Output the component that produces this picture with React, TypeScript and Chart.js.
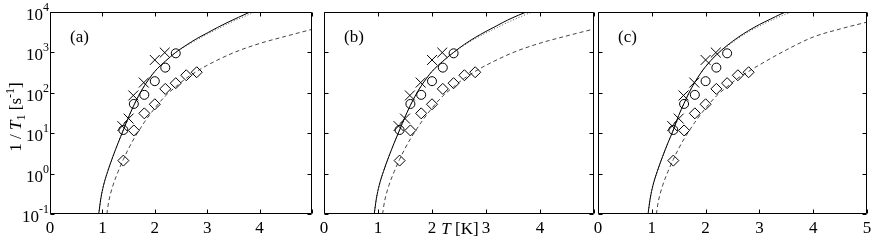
import React, { useEffect, useRef } from 'react';
import { Chart, registerables } from 'chart.js';

Chart.register(...registerables);

const FONT = '"Liberation Serif", "Times New Roman", serif';

// axis ticks
const xTicks = [0, 1, 2, 3, 4, 5];
const yTickExponents = [-1, 0, 1, 2, 3, 4];
const yTickValues = [0.1, 1, 10, 100, 1000, 10000];
const panelLabels = ['(a)', '(b)', '(c)'];

// measured points (same in all panels)
const circleT = [1.4, 1.6, 1.8, 2.0, 2.2, 2.4];
const circleRate = [12, 53, 89, 194, 420, 950];
const crossT = [1.38, 1.5, 1.59, 1.79, 2.0, 2.19];
const crossRate = [15, 23, 86, 179, 650, 990];
const diamondT = [1.4, 1.6, 1.8, 2.0, 2.2, 2.4, 2.6, 2.8];
const diamondRate = [2.1, 11.7, 31, 52, 125, 173, 272, 323];

// model curves
const solidT = [0.93, 0.97, 1.02, 1.1, 1.2, 1.3, 1.4, 1.5, 1.6, 1.7, 1.8, 1.9, 2.0, 2.2, 2.4, 2.6, 2.8, 3.0, 3.2, 3.4, 3.6, 3.8, 4.0];
const solidA = [0.1, 0.24, 0.5, 1.12, 2.63, 5.75, 12, 25.1, 49, 89, 148, 229, 339, 603, 1000, 1510, 2190, 3020, 4170, 5620, 7410, 9770, 12600];
const dottedA = [0.1, 0.24, 0.5, 1.12, 2.63, 5.75, 12, 25.1, 49, 89, 148, 229, 339, 603, 1000, 1450, 2040, 2820, 3800, 5130, 6760, 8710, 11200];
const solidB = [0.1, 0.24, 0.5, 1.12, 2.63, 5.75, 12, 25.1, 49, 89, 148, 229, 339, 603, 1000, 1580, 2340, 3310, 4570, 6310, 8320, 10700, 13500];
const dottedB = [0.1, 0.24, 0.5, 1.12, 2.63, 5.75, 12, 25.1, 49, 89, 148, 229, 339, 603, 1000, 1510, 2190, 3020, 4070, 5500, 7240, 9330, 11700];
const solidC = [0.1, 0.24, 0.5, 1.12, 2.63, 5.75, 12, 27.5, 55, 105, 182, 295, 447, 871, 1480, 2340, 3470, 4900, 6610, 8910, 11500, 14500, 17800];
const dottedC = [0.1, 0.24, 0.5, 1.12, 2.63, 5.75, 12, 27.5, 55, 105, 182, 295, 447, 871, 1410, 2190, 3240, 4470, 6030, 7940, 10000, 12600, 15500];

const dashedT = [1.085, 1.12, 1.2, 1.3, 1.4, 1.5, 1.6, 1.7, 1.8, 2.0, 2.2, 2.4, 2.6, 2.8, 3.0, 3.5, 4.0, 4.5, 5.0];
const dashedA = [0.1, 0.2, 0.5, 1.12, 2.24, 4.17, 7.24, 11.7, 18.6, 41.7, 83.2, 141, 229, 339, 479, 977, 1660, 2510, 3720];
const dashedB = [0.1, 0.2, 0.5, 1.12, 2.24, 4.17, 7.24, 11.7, 18.6, 41.7, 83.2, 141, 229, 339, 479, 990, 1690, 2570, 3800];
const dashedC = [0.1, 0.2, 0.5, 1.12, 2.24, 4.17, 7.24, 11.7, 18.6, 41.7, 83.2, 141, 229, 339, 490, 1150, 2400, 3800, 5620];

const pts = (xs: number[], ys: number[]) => xs.map((x, i) => ({ x, y: ys[i] }));

const framePlugin = {
  id: 'frame',
  afterDraw(chart: any, _args: any, opts: any) {
    const { ctx, chartArea: a, scales } = chart;
    const xs = scales.x;
    const ys = scales.y;
    ctx.save();
    ctx.strokeStyle = '#000';
    ctx.lineWidth = 1;
    const L = Math.round(a.left) + 0.5;
    const R = Math.round(a.right) - 0.5;
    const T = Math.round(a.top) + 0.5;
    const B = Math.round(a.bottom) - 0.5;
    ctx.beginPath();
    ctx.rect(L, T, R - L, B - T);
    const tl = 4;
    for (const v of xTicks) {
      const px = Math.round(xs.getPixelForValue(v)) + 0.5;
      ctx.moveTo(px, B);
      ctx.lineTo(px, B - tl);
      ctx.moveTo(px, T);
      ctx.lineTo(px, T + tl);
    }
    for (const v of yTickValues) {
      const py = Math.round(ys.getPixelForValue(v)) + 0.5;
      ctx.moveTo(L, py);
      ctx.lineTo(L + tl, py);
      ctx.moveTo(R, py);
      ctx.lineTo(R - tl, py);
    }
    ctx.stroke();

    ctx.fillStyle = '#000';
    // panel label
    ctx.font = `17px ${FONT}`;
    ctx.textAlign = 'left';
    ctx.textBaseline = 'alphabetic';
    ctx.fillText(opts.label, a.left + 20, a.top + 29.5);

    if (opts.yLabels) {
      const rightX = a.left - 1;
      yTickExponents.forEach((e, i) => {
        const py = ys.getPixelForValue(yTickValues[i]);
        const es = String(e);
        ctx.font = `12px ${FONT}`;
        const ew = ctx.measureText(es).width;
        ctx.textAlign = 'left';
        ctx.fillText(es, rightX - ew, py - 1);
        ctx.font = `17px ${FONT}`;
        ctx.textAlign = 'right';
        ctx.fillText('10', rightX - ew, py + 8);
      });
      // rotated y title: 1 / T_1 [s^-1]
      const parts: [string, string, number][] = [
        ['1 / ', `17px ${FONT}`, 0],
        ['T', `italic 17px ${FONT}`, 0],
        ['1', `12px ${FONT}`, 4],
        [' [s', `17px ${FONT}`, 0],
        ['-1', `12px ${FONT}`, -7],
        [']', `17px ${FONT}`, 0],
      ];
      let total = 0;
      for (const [t, f] of parts) {
        ctx.font = f;
        total += ctx.measureText(t).width;
      }
      ctx.save();
      ctx.translate(20.5, (a.top + a.bottom) / 2 + 4 + total / 2);
      ctx.rotate(-Math.PI / 2);
      ctx.textAlign = 'left';
      let cx = 0;
      for (const [t, f, dy] of parts) {
        ctx.font = f;
        ctx.fillText(t, cx, dy);
        cx += ctx.measureText(t).width;
      }
      ctx.restore();
    }

    if (opts.xTitle) {
      const parts: [string, string][] = [
        ['T', `italic 17px ${FONT}`],
        [' [K]', `17px ${FONT}`],
      ];
      let total = 0;
      for (const [t, f] of parts) {
        ctx.font = f;
        total += ctx.measureText(t).width;
      }
      let cx = xs.getPixelForValue(2.5) + 1 - total / 2;
      ctx.textAlign = 'left';
      for (const [t, f] of parts) {
        ctx.font = f;
        ctx.fillText(t, cx, a.bottom + 19.5);
        cx += ctx.measureText(t).width;
      }
    }
    ctx.restore();
  },
};

type PanelProps = {
  index: number;
  left: number;
  width: number;
  yWidth: number;
  padRight: number;
  solid: number[];
  dotted: number[];
  dashed: number[];
};

function Panel(p: PanelProps) {
  const ref = useRef<HTMLCanvasElement>(null);
  useEffect(() => {
    const canvas = ref.current!;
    const chart = new Chart(canvas, {
      type: 'scatter',
      data: {
        datasets: [
          { data: pts(circleT, circleRate), pointStyle: 'circle', pointRadius: 4.5, borderColor: '#000', backgroundColor: 'rgba(0,0,0,0)', borderWidth: 1 },
          { data: pts(crossT, crossRate), pointStyle: 'crossRot', pointRadius: 7, borderColor: '#000', backgroundColor: 'rgba(0,0,0,0)', borderWidth: 1 },
          { data: pts(diamondT, diamondRate), pointStyle: 'rectRot', pointRadius: 5.5, borderColor: '#000', backgroundColor: 'rgba(0,0,0,0)', borderWidth: 1 },
          { data: pts(solidT, p.solid), showLine: true, borderColor: '#000', borderWidth: 1, pointRadius: 0, cubicInterpolationMode: 'monotone' },
          { data: pts(solidT, p.dotted), showLine: true, borderColor: '#555', borderWidth: 1, borderDash: [1, 2], pointRadius: 0, cubicInterpolationMode: 'monotone' },
          { data: pts(dashedT, p.dashed), showLine: true, borderColor: '#444', borderWidth: 1, borderDash: [4, 3], pointRadius: 0, cubicInterpolationMode: 'monotone' },
        ] as any,
      },
      options: {
        responsive: false,
        animation: false,
        devicePixelRatio: 1,
        events: [],
        layout: { padding: { left: 0, right: p.padRight, top: 12, bottom: 0 } },
        plugins: {
          legend: { display: false },
          tooltip: { enabled: false },
          frame: { label: panelLabels[p.index], yLabels: p.index === 0, xTitle: p.index === 1 },
        } as any,
        scales: {
          x: {
            type: 'linear',
            min: 0,
            max: 5,
            grid: { display: false, drawTicks: false },
            border: { display: false },
            ticks: {
              stepSize: 1,
              autoSkip: false,
              padding: 4,
              color: '#000',
              font: { family: FONT, size: 17 },
              callback: (v: any) => (v === 5 && p.index !== 2 ? '' : String(v)),
            },
            afterFit: (s: any) => {
              s.height = 29;
              s.paddingLeft = 0;
              s.paddingRight = 0;
            },
          },
          y: {
            type: 'logarithmic',
            min: 0.1,
            max: 10000,
            grid: { display: false, drawTicks: false },
            border: { display: false },
            ticks: { display: false },
            afterFit: (s: any) => {
              s.width = p.yWidth;
            },
          },
        } as any,
      },
      plugins: [framePlugin as any],
    });
    return () => chart.destroy();
  }, []);
  return (
    <canvas
      ref={ref}
      width={p.width}
      height={243}
      style={{ position: 'absolute', left: p.left, top: 0, width: p.width, height: 243 }}
    />
  );
}

export default function App() {
  return (
    <div style={{ position: 'fixed', left: 0, top: 0, width: 871, height: 243, background: '#fff', overflow: 'hidden' }}>
      <Panel index={0} left={0} width={320} yWidth={50} padRight={1} solid={solidA} dotted={dottedA} dashed={dashedA} />
      <Panel index={1} left={312} width={292} yWidth={12} padRight={10} solid={solidB} dotted={dottedB} dashed={dashedB} />
      <Panel index={2} left={586} width={295} yWidth={12} padRight={14} solid={solidC} dotted={dottedC} dashed={dashedC} />
    </div>
  );
}
